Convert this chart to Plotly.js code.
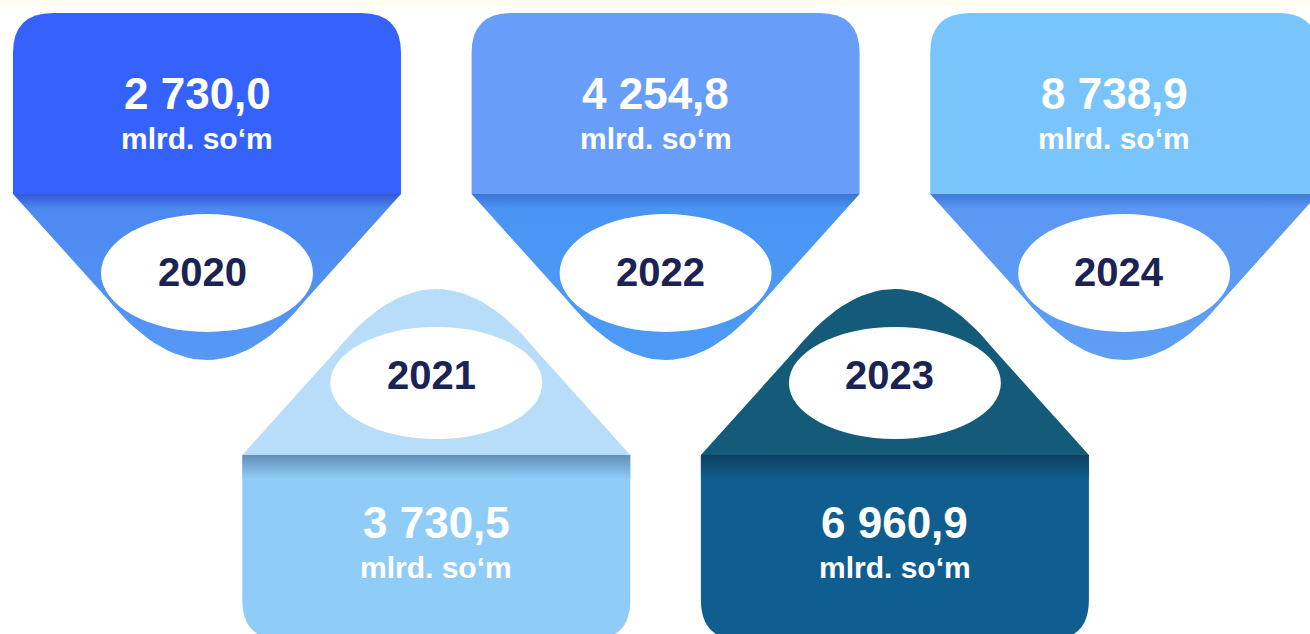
<!DOCTYPE html>
<html>
<head>
<meta charset="utf-8">
<script src="https://cdn.plot.ly/plotly-3.0.1.min.js"></script>
<style>html,body{margin:0;padding:0;background:#fff;}#chart{width:1310px;height:634px;}</style>
</head>
<body>
<div id="chart"></div>
<script>
// ---- data ----
const years = ['2020', '2021', '2022', '2023', '2024'];
const values = [2730.0, 3730.5, 4254.8, 6960.9, 8738.9];
const unitLabel = 'mlrd. so\u2018m';

// ---- styles ----
const rectColors  = ['#3462FA', '#90CCF8', '#699DFA', '#105E8F', '#78C4FB'];
const pointColors = ['#4C89F1', '#B8DDF9', '#4A95F4', '#145A79', '#5A98F3'];
const pointLight  = ['#5798F5', '#B8DDF9', '#4D9BF6', '#145A79', '#5E9EF5'];
const bandColors  = ['#3457D2', '#6190B6', '#3B74D4', '#0C3F62', '#3E7AD6'];
const valueColor = '#FFFFFF';
const yearColor = '#1B2254';
const FONT = 'Arial, "Liberation Sans", sans-serif';

function fmt(v) {
  const s = v.toFixed(1).split('.');
  return s[0].replace(/\B(?=(\d{3})+(?!\d))/g, ' ') + ',' + s[1];
}

function quad(p0, c, p1, n) {
  const pts = [];
  for (let k = 0; k <= n; k++) {
    const t = k / n, u = 1 - t;
    pts.push([u*u*p0[0] + 2*u*t*c[0] + t*t*p1[0], u*u*p0[1] + 2*u*t*c[1] + t*t*p1[1]]);
  }
  return pts;
}

const W = 1310, H = 634;
const cardW = 388, step = 229.3, left0 = 13, radius = 40;
const traces = [], shapes = [], annotations = [];

// faint top strip
shapes.push({type: 'rect', xref: 'x', yref: 'y', x0: 0, x1: W, y0: 0, y1: 6, fillcolor: '#FFFCF1', line: {width: 0}, layer: 'below'});

years.forEach((yr, i) => {
  const x0 = left0 + i * step, x1 = x0 + cardW, xc = (x0 + x1) / 2;
  const up = i % 2 === 1; // bottom row cards pointing up
  const h = 105, dx = h * 0.9;
  if (!up) {
    const yt = 13, yb = 194, tip = 360;
    const ys = yb + h;
    shapes.push({type: 'path', xref: 'x', yref: 'y', layer: 'below',
      path: `M ${x0},${yb} L ${x0},${yt+radius} Q ${x0},${yt} ${x0+radius},${yt} L ${x1-radius},${yt} Q ${x1},${yt} ${x1},${yt+radius} L ${x1},${yb} Z`,
      fillcolor: rectColors[i], line: {width: 0}});
    const pts = [[x0, yb], [x1, yb]].concat(quad([x1-dx, ys], [xc, 2*tip - ys], [x0+dx, ys], 30));
    pts.push([x0, yb]);
    traces.push({type: 'scatter', mode: 'lines', x: pts.map(p => p[0]), y: pts.map(p => p[1]),
      fill: 'toself', line: {width: 0, color: 'rgba(0,0,0,0)'}, hoverinfo: 'skip',
      fillcolor: pointColors[i],
      fillgradient: {type: 'vertical', start: yb, stop: tip,
        colorscale: [[0, bandColors[i]], [0.09, pointColors[i]], [1, pointLight[i]]]}});
    const ec = 273, rx = 106, ry = 59;
    shapes.push({type: 'circle', xref: 'x', yref: 'y', layer: 'above', x0: xc - rx, x1: xc + rx, y0: ec - ry, y1: ec + ry,
      fillcolor: '#FFFFFF', line: {width: 0}});
    annotations.push({x: xc - 10, y: 93, text: '<b>' + fmt(values[i]) + '</b>', font: {family: FONT, size: 44, color: valueColor}});
    annotations.push({x: xc - 10, y: 138, text: '<b>' + unitLabel + '</b>', font: {family: FONT, size: 30, color: valueColor}});
    annotations.push({x: xc - 5, y: 272, text: '<b>' + yr + '</b>', font: {family: FONT, size: 40, color: yearColor}});
  } else {
    const yb = 455, yBot = 640, apex = 289;
    const ys = yb - h;
    shapes.push({type: 'path', xref: 'x', yref: 'y', layer: 'below',
      path: `M ${x0},${yb} L ${x1},${yb} L ${x1},${yBot-radius} Q ${x1},${yBot} ${x1-radius},${yBot} L ${x0+radius},${yBot} Q ${x0},${yBot} ${x0},${yBot-radius} Z`,
      fillcolor: rectColors[i], line: {width: 0}});
    const pts = [[x0, yb], [x1, yb]].concat(quad([x1-dx, ys], [xc, 2*apex - ys], [x0+dx, ys], 30));
    pts.push([x0, yb]);
    traces.push({type: 'scatter', mode: 'lines', x: pts.map(p => p[0]), y: pts.map(p => p[1]),
      fill: 'toself', line: {width: 0, color: 'rgba(0,0,0,0)'}, hoverinfo: 'skip', fillcolor: pointColors[i]});
    const band = [[x0, yb], [x1, yb], [x1, yb + 24], [x0, yb + 24], [x0, yb]];
    traces.push({type: 'scatter', mode: 'lines', x: band.map(p => p[0]), y: band.map(p => p[1]),
      fill: 'toself', line: {width: 0, color: 'rgba(0,0,0,0)'}, hoverinfo: 'skip', fillcolor: rectColors[i],
      fillgradient: {type: 'vertical', start: yb, stop: yb + 24,
        colorscale: [[0, bandColors[i]], [1, rectColors[i]]]}});
    const ec = 383, rx = 106, ry = 56;
    shapes.push({type: 'circle', xref: 'x', yref: 'y', layer: 'above', x0: xc - rx, x1: xc + rx, y0: ec - ry, y1: ec + ry,
      fillcolor: '#FFFFFF', line: {width: 0}});
    annotations.push({x: xc, y: 522, text: '<b>' + fmt(values[i]) + '</b>', font: {family: FONT, size: 44, color: valueColor}});
    annotations.push({x: xc, y: 567, text: '<b>' + unitLabel + '</b>', font: {family: FONT, size: 30, color: valueColor}});
    annotations.push({x: xc - 5, y: 375, text: '<b>' + yr + '</b>', font: {family: FONT, size: 40, color: yearColor}});
  }
});

annotations.forEach(a => { a.xref = 'x'; a.yref = 'y'; a.showarrow = false; a.xanchor = 'center'; a.yanchor = 'middle'; });

const layout = {
  width: W, height: H,
  margin: {l: 0, r: 0, t: 0, b: 0, pad: 0},
  paper_bgcolor: '#FFFFFF', plot_bgcolor: '#FFFFFF',
  showlegend: false,
  xaxis: {range: [0, W], visible: false, fixedrange: true},
  yaxis: {range: [H, 0], visible: false, fixedrange: true},
  shapes: shapes,
  annotations: annotations
};

Plotly.newPlot('chart', traces, layout, {displayModeBar: false, staticPlot: true});
</script>
</body>
</html>
